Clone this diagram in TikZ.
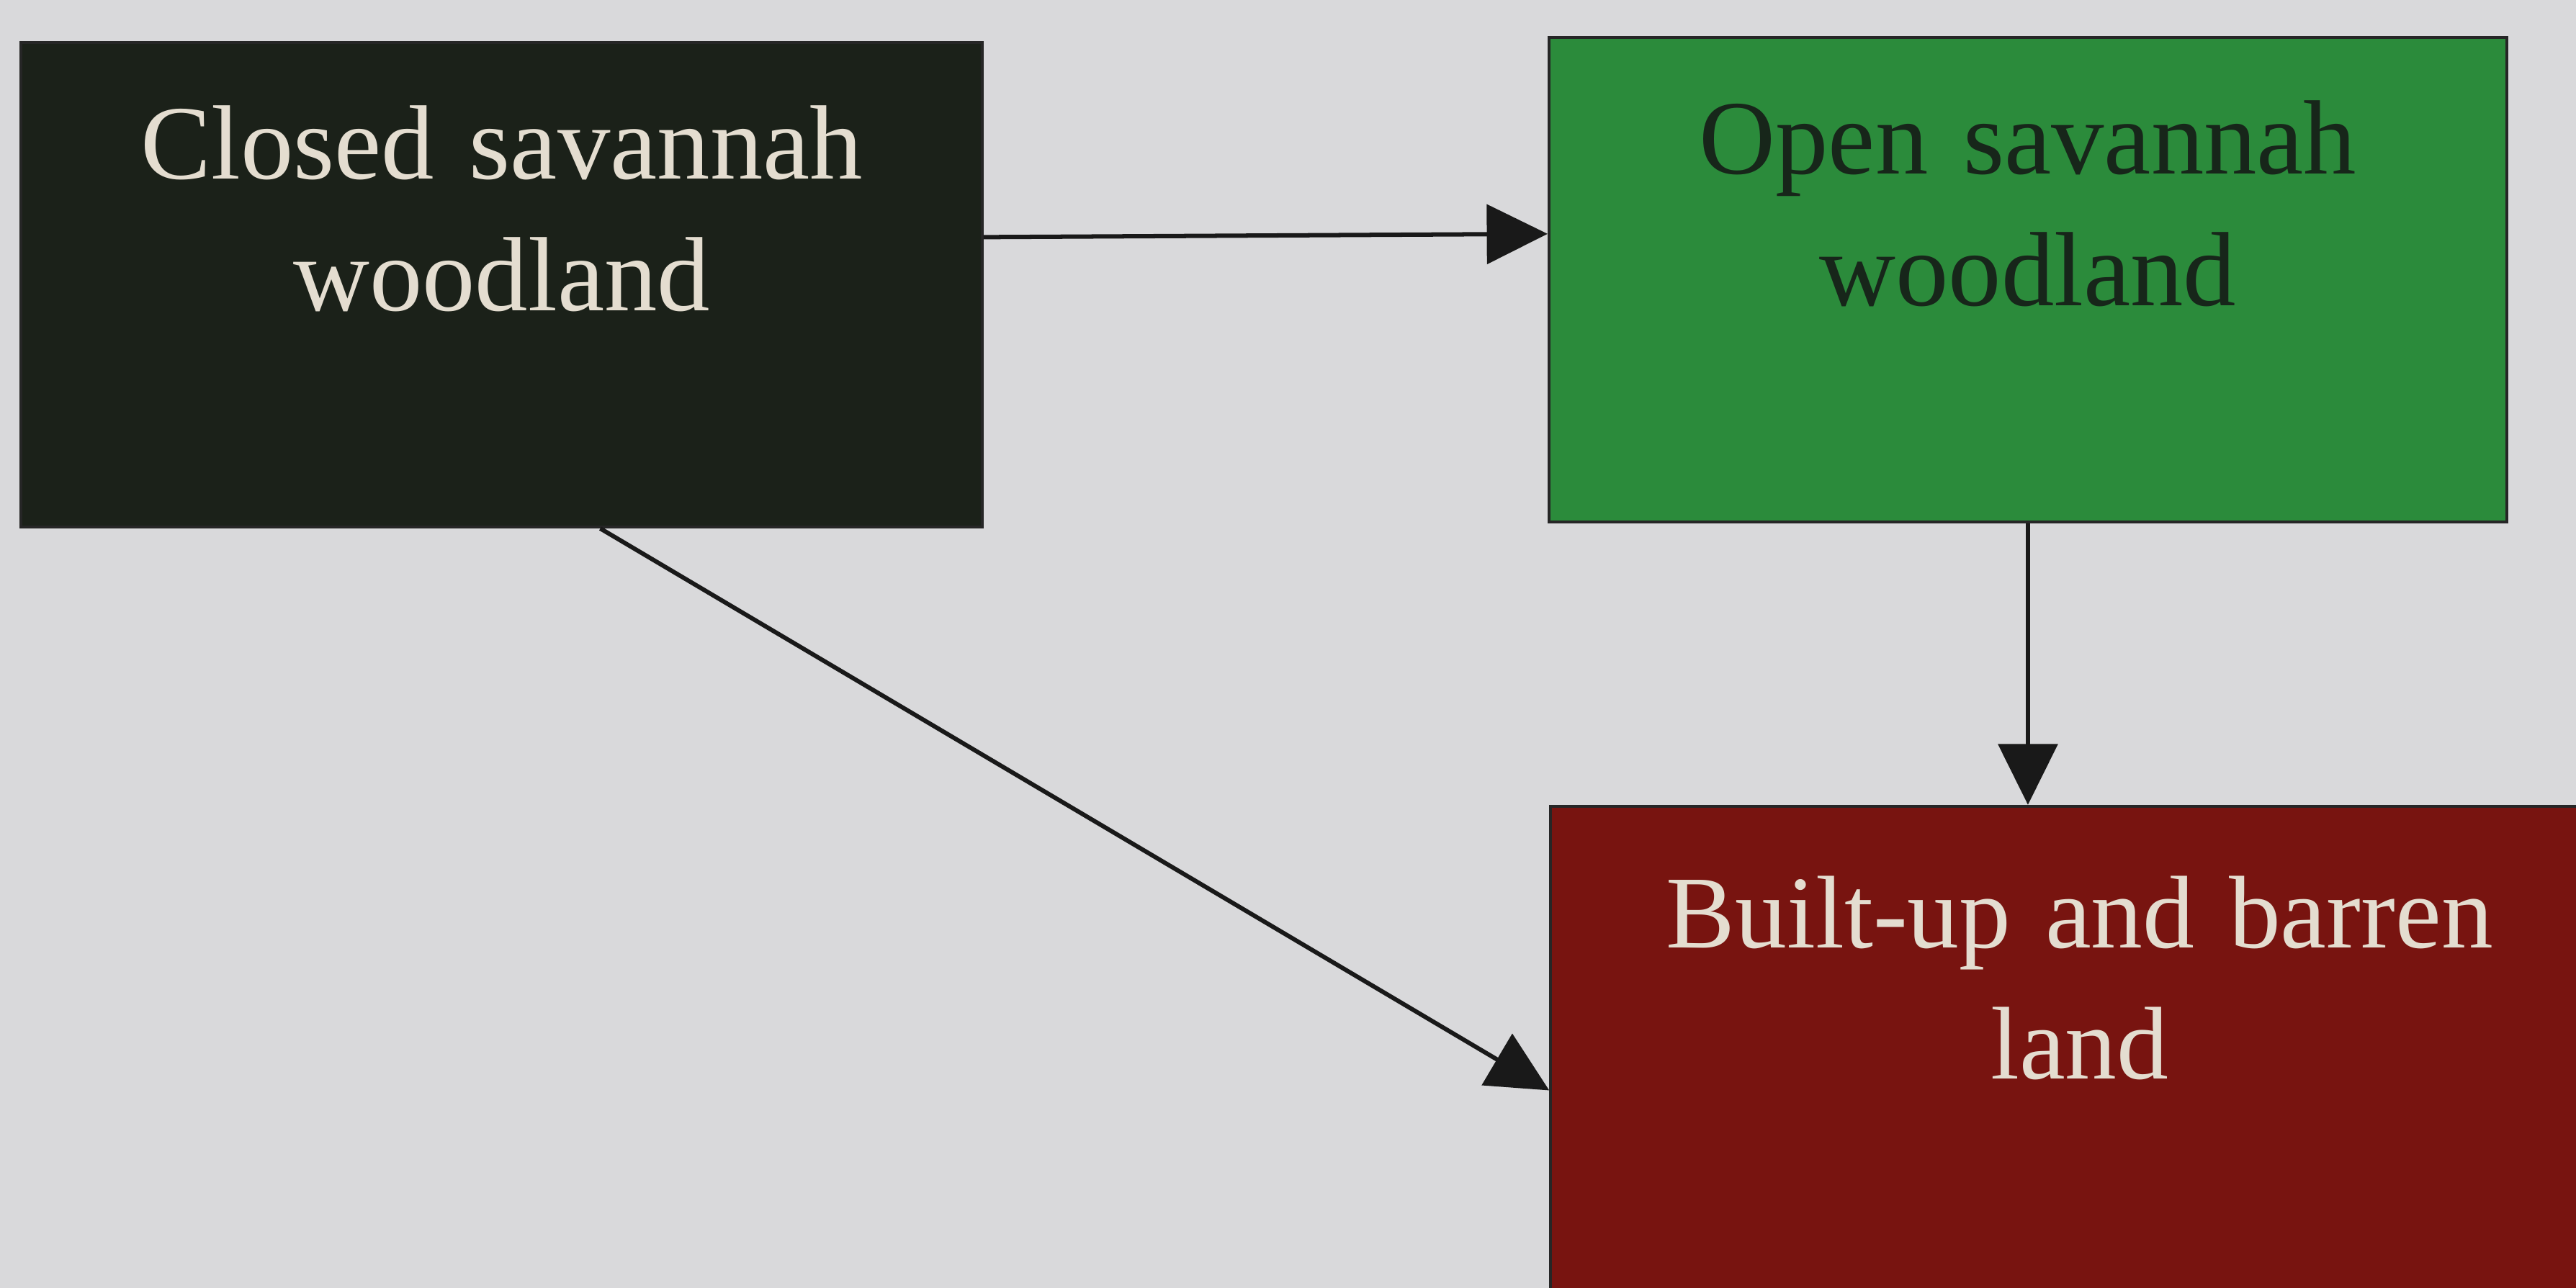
\documentclass[tikz,border=0pt]{standalone}
\usepackage{fontspec}
\setmainfont{Liberation Serif}
\usetikzlibrary{arrows.meta,positioning}

\definecolor{bgpaper}{HTML}{D9D9DB}
\definecolor{closedfill}{HTML}{1B2119}
\definecolor{openfill}{HTML}{2B8B3B}
\definecolor{builtfill}{HTML}{781410}
\definecolor{lighttext}{HTML}{E4DDD0}
\definecolor{darktext}{HTML}{17261A}

\begin{document}
\begin{tikzpicture}[
  font=\fontsize{18.3}{22.8}\selectfont,
  box/.style={draw=black!85, line width=0.5pt, align=center, inner xsep=0pt, inner ysep=0pt,
    text height=0.83cm, text depth=2.12cm, minimum height=2.95cm},
  arr/.style={-{Triangle[length=0.37cm, width=0.36cm]}, line width=0.75pt, black!90}
]
\fill[bgpaper] (0,0) rectangle (15.68,7.84);
\useasboundingbox (0,0) rectangle (15.68,7.84);
\node[box, fill=closedfill, text=lighttext, text width=5.85cm, anchor=north west] (closed) at (0.12,7.59) {Closed savannah\\woodland};
\node[box, fill=openfill, text=darktext, text width=5.83cm, anchor=north west] (open) at (9.42,7.62) {Open savannah\\woodland};
\node[box, fill=builtfill, text=lighttext, text width=6.44cm, text height=0.86cm, anchor=north west,
  font=\fontsize{17.9}{22.8}\selectfont] (built) at (9.43,2.94) {Built-up and barren\\land};
\draw[arr] ([yshift=0.29cm]closed.east) -- ([yshift=0.28cm]open.west);
\draw[arr] (open.south) -- (open.south |- built.north);
\draw[arr] ([xshift=0.6cm]closed.south) -- ([yshift=-0.24cm]built.west);
\end{tikzpicture}
\end{document}
